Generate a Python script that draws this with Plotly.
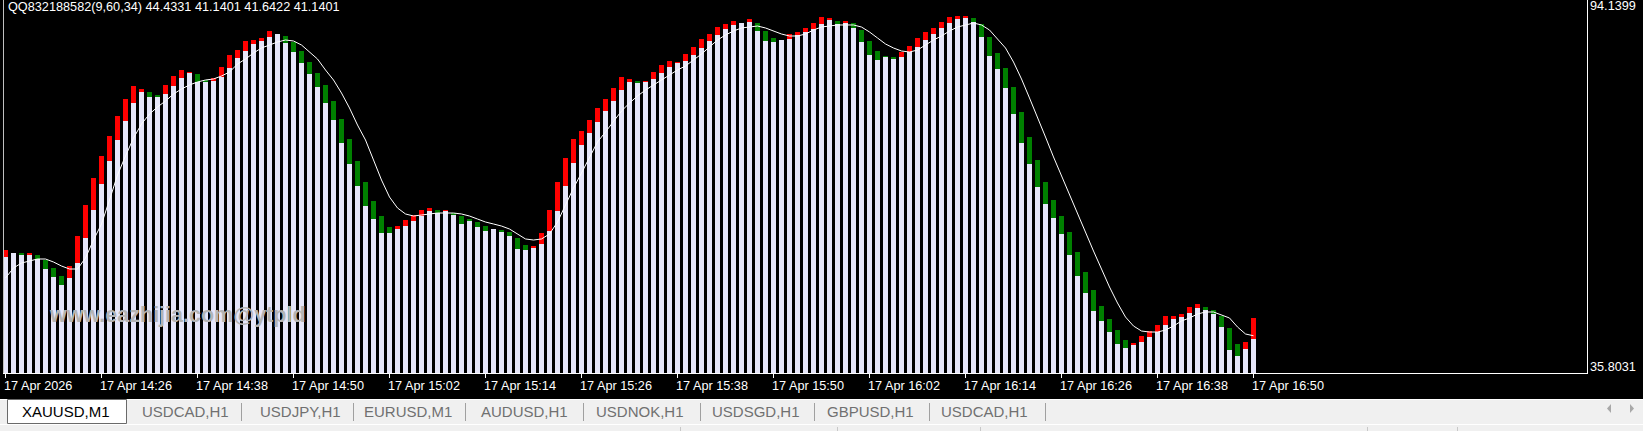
import plotly.graph_objects as go

# ---------------- data ----------------
tick_idx = [0, 12, 24, 36, 48, 60, 72, 84, 96, 108, 120, 132, 144, 156]
tick_labels = ["17 Apr 2026", "17 Apr 14:26", "17 Apr 14:38", "17 Apr 14:50", "17 Apr 15:02",
               "17 Apr 15:14", "17 Apr 15:26", "17 Apr 15:38", "17 Apr 15:50", "17 Apr 16:02",
               "17 Apr 16:14", "17 Apr 16:26", "17 Apr 16:38", "17 Apr 16:50"]

# lower value of each bar (top of the light part)
body_low = [
    53.99, 54.62, 54.31, 54.46, 53.68, 52.11, 50.86, 49.60, 50.70, 53.05,
    56.97, 61.36, 65.44, 69.05, 72.34, 75.32, 78.14, 79.87, 79.08, 79.08,
    79.55, 80.81, 82.06, 82.85, 81.44, 81.44, 81.59, 82.22, 83.63, 85.20,
    86.30, 87.40, 87.87, 88.49, 88.96, 87.55, 86.14, 84.42, 82.69, 80.65,
    78.14, 75.48, 71.87, 68.58, 65.13, 61.99, 59.95, 57.76, 57.76, 58.38,
    58.85, 59.64, 60.42, 61.21, 61.05, 61.21, 60.58, 59.17, 59.64, 58.70,
    58.07, 58.38, 57.91, 57.29, 55.24, 55.09, 55.40, 56.03, 58.07, 61.21,
    65.13, 68.73, 71.56, 73.44, 75.16, 76.89, 78.46, 80.18, 81.44, 81.28,
    81.44, 81.91, 82.85, 83.79, 84.42, 84.73, 85.67, 86.77, 87.87, 88.81,
    89.75, 90.38, 90.69, 90.85, 89.43, 87.87, 87.71, 88.02, 88.18, 88.81,
    89.28, 89.75, 90.53, 91.16, 90.53, 90.69, 89.91, 87.71, 85.67, 84.89,
    85.36, 85.04, 85.36, 86.14, 86.93, 88.02, 88.96, 89.91, 90.69, 91.32,
    91.63, 90.85, 88.49, 85.51, 83.48, 80.50, 76.42, 71.87, 68.58, 64.97,
    62.30, 60.11, 57.60, 54.31, 51.01, 48.35, 45.52, 43.96, 42.23, 40.35,
    39.72, 40.35, 40.66, 41.45, 42.23, 43.33, 44.27, 44.74, 45.21, 45.99,
    45.68, 45.05, 43.02, 39.41, 38.47, 39.57, 41.1401,
]

# upper value of each bar (top of the coloured part)
body_high = [
    55.09, 54.62, 54.62, 54.62, 54.31, 53.52, 52.27, 51.01, 52.58, 57.29,
    62.15, 66.38, 69.83, 72.97, 76.11, 78.77, 80.81, 80.34, 79.87, 79.40,
    80.97, 82.38, 83.32, 83.00, 82.69, 81.75, 82.06, 83.79, 85.67, 86.45,
    87.87, 88.02, 88.34, 89.43, 88.96, 88.65, 87.71, 86.30, 84.57, 82.85,
    80.97, 78.46, 75.63, 72.50, 69.05, 65.76, 62.78, 60.42, 58.70, 58.85,
    59.80, 60.58, 61.36, 61.68, 61.36, 61.36, 60.89, 60.42, 59.80, 59.48,
    58.85, 58.38, 58.23, 57.91, 56.97, 55.87, 55.72, 57.76, 61.36, 65.76,
    69.52, 72.50, 73.75, 75.48, 77.36, 78.77, 80.50, 82.22, 81.91, 81.59,
    81.59, 83.00, 84.10, 84.73, 84.57, 85.83, 86.93, 88.18, 88.96, 90.06,
    90.53, 91.00, 90.69, 91.32, 90.69, 89.43, 88.34, 88.02, 88.96, 89.28,
    89.91, 90.69, 91.63, 91.32, 91.00, 90.85, 90.69, 89.59, 87.87, 86.30,
    85.51, 85.36, 86.14, 87.08, 88.34, 89.28, 89.91, 90.85, 91.63, 91.79,
    91.79, 91.47, 90.53, 88.49, 85.98, 83.63, 80.65, 76.73, 72.81, 69.21,
    65.76, 62.93, 60.42, 57.91, 54.78, 51.64, 48.82, 46.31, 44.27, 42.54,
    40.98, 40.51, 41.60, 42.39, 43.33, 44.74, 44.74, 45.05, 46.15, 46.62,
    46.15, 45.68, 44.74, 42.86, 40.35, 40.66, 44.4331,
]

# u = red (up), d = green (down), n = no coloured part
direction = list(
    "unduddddu" + "u"      # 0-9
    + "uuuuuuuudd"         # 10-19
    + "uuuudduuuu"         # 20-29
    + "uuuunddddd"         # 30-39
    + "dddddddddu"         # 40-49
    + "uuuududddd"         # 50-59
    + "dndddduuuu"         # 60-69
    + "uuuuuuuuud"         # 70-79
    + "uuuuuuuuuu"         # 80-89
    + "uunudddnuu"         # 90-99
    + "uuuududddd"         # 100-109
    + "dduuuuuuuu"         # 110-119
    + "uddddddddd"         # 120-129
    + "dddddddddd"         # 130-139
    + "duuuuuuuuu"         # 140-149
    + "ddddduu"            # 150-156
)

# smoothed line
ma_line = [
    50.70, 52.27, 53.05, 53.37, 53.68, 53.68, 53.21, 52.58, 52.11, 52.11,
    53.84, 56.66, 59.17, 62.93, 66.85, 69.83, 72.65, 74.85, 76.42, 77.52,
    78.46, 79.55, 80.34, 80.97, 81.44, 81.75, 81.91, 82.38, 83.00, 84.26,
    85.04, 85.98, 86.77, 87.24, 87.71, 88.02, 87.87, 87.24, 86.14, 85.04,
    83.32, 81.75, 79.71, 77.36, 74.69, 72.34, 69.21, 66.07, 63.40, 61.68,
    60.74, 60.42, 60.58, 60.74, 60.89, 60.89, 60.89, 60.74, 60.42, 59.95,
    59.48, 59.17, 58.85, 58.38, 57.60, 56.82, 56.66, 56.82, 57.60, 59.48,
    62.15, 64.81, 67.17, 69.68, 72.03, 73.60, 75.16, 76.89, 78.14, 79.24,
    80.18, 80.97, 81.75, 82.53, 83.32, 83.95, 84.89, 85.83, 86.93, 88.02,
    88.81, 89.43, 89.91, 90.06, 90.22, 89.91, 89.43, 88.96, 88.65, 88.65,
    88.96, 89.59, 90.06, 90.22, 90.38, 90.38, 90.38, 90.06, 89.28, 88.34,
    87.40, 86.77, 86.30, 86.14, 86.45, 87.24, 88.02, 88.65, 89.43, 90.06,
    90.38, 90.69, 90.38, 89.59, 88.18, 86.77, 84.57, 81.91, 78.93, 75.95,
    72.81, 69.68, 66.70, 63.72, 60.74, 57.76, 54.93, 52.11, 49.29, 46.78,
    44.58, 43.17, 42.39, 42.23, 42.23, 42.54, 43.17, 43.96, 44.43, 45.05,
    45.37, 45.37, 44.90, 44.43, 43.02, 41.92, 41.6422,
]

y_min, y_max = 35.8031, 94.1399
header = "QQ832188582(9,60,34) 44.4331 41.1401 41.6422 41.1401"
watermark = "www.eazhijia.com@ytpld"
tabs = ["XAUUSD,M1", "USDCAD,H1", "USDJPY,H1", "EURUSD,M1", "AUDUSD,H1",
        "USDNOK,H1", "USDSGD,H1", "GBPUSD,H1", "USDCAD,H1"]

# ---------------- layout geometry ----------------
W, H = 1643, 431
L, R, T, B = 4, 1587, 1, 373
FONT = "Liberation Sans, Arial, sans-serif"


def fx(px):
    return (px - L) / (R - L)


def fy(py):
    return (B - py) / (B - T)


n = len(body_low)
xs = list(range(n))
bw = 0.625

fig = go.Figure()
fig.add_trace(go.Bar(x=xs, y=body_low, width=bw, marker=dict(color="#e6e6fa", line=dict(width=0)),
                     hoverinfo="skip"))
for code, col in (("u", "#ff0000"), ("d", "#008000")):
    sx = [i for i in xs if direction[i] == code and body_high[i] > body_low[i]]
    fig.add_trace(go.Bar(x=sx, y=[body_high[i] - body_low[i] for i in sx],
                         base=[body_low[i] for i in sx], width=bw,
                         marker=dict(color=col, line=dict(width=0)), hoverinfo="skip"))
fig.add_trace(go.Scatter(x=xs, y=ma_line, mode="lines", line=dict(color="#ffffff", width=1),
                         hoverinfo="skip"))

shapes = []
# chart frame
shapes.append(dict(type="line", xref="paper", yref="paper", x0=fx(3.5), x1=fx(3.5), y0=fy(0), y1=fy(373.5),
                   line=dict(color="#c0c0c0", width=1)))
shapes.append(dict(type="line", xref="paper", yref="paper", x0=fx(3), x1=fx(1588), y0=fy(373.5), y1=fy(373.5),
                   line=dict(color="#ffffff", width=1)))
shapes.append(dict(type="line", xref="paper", yref="paper", x0=fx(1587.5), x1=fx(1587.5), y0=fy(0), y1=fy(373.5),
                   line=dict(color="#ffffff", width=1)))
# tab bar
shapes.append(dict(type="rect", xref="paper", yref="paper", x0=fx(-5), x1=fx(1650), y0=fy(399), y1=fy(440),
                   fillcolor="#f0f0f0", line=dict(width=0)))
shapes.append(dict(type="line", xref="paper", yref="paper", x0=fx(0), x1=fx(1643), y0=fy(399.5), y1=fy(399.5),
                   line=dict(color="#ffffff", width=1)))
shapes.append(dict(type="line", xref="paper", yref="paper", x0=fx(0), x1=fx(1643), y0=fy(424.5), y1=fy(424.5),
                   line=dict(color="#ffffff", width=1)))
shapes.append(dict(type="rect", xref="paper", yref="paper", x0=fx(7.5), x1=fx(126.5), y0=fy(399.5), y1=fy(423.5),
                   fillcolor="#ffffff", line=dict(color="#6a6a6a", width=1)))
for sx_ in [241, 353, 465, 583, 700, 814, 929, 1045]:
    shapes.append(dict(type="line", xref="paper", yref="paper", x0=fx(sx_ + 0.5), x1=fx(sx_ + 0.5),
                       y0=fy(403), y1=fy(421), line=dict(color="#a0a0a0", width=1)))
for sx_ in [680, 837, 980, 1367, 1457]:
    shapes.append(dict(type="line", xref="paper", yref="paper", x0=fx(sx_ + 0.5), x1=fx(sx_ + 0.5),
                       y0=fy(427), y1=fy(431), line=dict(color="#c8c8c8", width=1)))
# scroll arrows
shapes.append(dict(type="path", xref="paper", yref="paper",
                   path=f"M {fx(1607)},{fy(408.5)} L {fx(1611)},{fy(404)} L {fx(1611)},{fy(413)} Z",
                   fillcolor="#a8a8a8", line=dict(width=0)))
shapes.append(dict(type="path", xref="paper", yref="paper",
                   path=f"M {fx(1634)},{fy(408.5)} L {fx(1630)},{fy(404)} L {fx(1630)},{fy(413)} Z",
                   fillcolor="#a8a8a8", line=dict(width=0)))

ann = []
txt = dict(family=FONT, size=12.7, color="#ffffff")
for k, lab in zip(tick_idx, tick_labels):
    ann.append(dict(x=k, xref="x", y=fy(385.5), yref="paper", text=lab, showarrow=False,
                    xanchor="left", yanchor="middle", xshift=-4, font=txt))
ann.append(dict(x=fx(6), xref="paper", y=fy(7), yref="paper", text=header, showarrow=False,
                xanchor="left", yanchor="middle", font=txt))
ann.append(dict(x=fx(1588), xref="paper", y=fy(6.5), yref="paper", text=f"{y_max:.4f}", showarrow=False,
                xanchor="left", yanchor="middle", font=txt))
ann.append(dict(x=fx(1588), xref="paper", y=fy(366.5), yref="paper", text=f"{y_min:.4f}", showarrow=False,
                xanchor="left", yanchor="middle", font=txt))
ann.append(dict(x=fx(47), xref="paper", y=fy(315), yref="paper", text="<b>" + watermark + "</b>",
                showarrow=False, xanchor="left", yanchor="middle",
                font=dict(family=FONT, size=21.5, color="#b4b4b4")))
tab_centers = [66, 185, 300, 408, 524, 640, 756, 870, 984]
for i, (t, cx) in enumerate(zip(tabs, tab_centers)):
    ann.append(dict(x=fx(cx), xref="paper", y=fy(412), yref="paper", text=t, showarrow=False,
                    xanchor="center", yanchor="middle",
                    font=dict(family=FONT, size=15, color="#000000" if i == 0 else "#707070")))

fig.update_layout(
    width=W, height=H, margin=dict(l=L, r=W - R, t=T, b=H - B, pad=0),
    paper_bgcolor="#000000", plot_bgcolor="#000000",
    barmode="overlay", bargap=0, showlegend=False, hovermode=False,
    xaxis=dict(range=[(L - 5.5) / 8, (R - 5.5) / 8], tickvals=tick_idx, ticks="outside", ticklen=4,
               tickwidth=1, tickcolor="#ffffff", showticklabels=False, showgrid=False, zeroline=False,
               showline=False, fixedrange=True),
    yaxis=dict(range=[y_min, y_max], showticklabels=False, showgrid=False, zeroline=False,
               showline=False, ticks="", fixedrange=True),
    shapes=shapes, annotations=ann,
)

fig.write_html("out.html")
